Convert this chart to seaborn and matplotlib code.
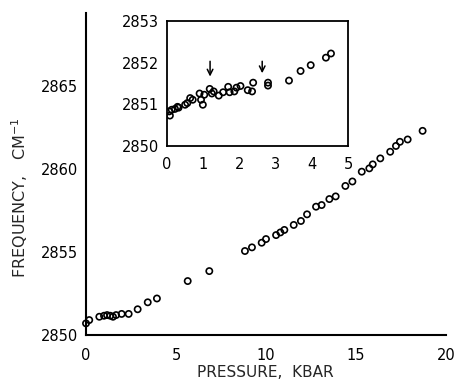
import matplotlib
matplotlib.use("Agg")
import matplotlib.pyplot as plt
import seaborn as sns
import pandas as pd

# Main panel data (pressure in kbar, frequency in cm^-1)
main_pressure = [0.0, 0.18, 0.74, 1.0, 1.17, 1.35, 1.5, 1.67, 1.98, 2.37, 2.87, 3.43, 3.94,
                 5.65, 6.85,
                 8.83, 9.22, 9.76, 10.0, 10.56, 10.8, 11.02, 11.54, 11.94, 12.28, 12.78,
                 13.09, 13.52, 13.87, 14.41, 14.8, 15.32, 15.74, 15.93, 16.35, 16.9,
                 17.22, 17.44, 17.87, 18.7]
main_freq = [2850.7, 2850.9, 2851.1, 2851.16, 2851.2, 2851.16, 2851.1, 2851.2, 2851.27, 2851.27,
             2851.55, 2851.97, 2852.2,
             2853.25, 2853.85,
             2855.06, 2855.28, 2855.56, 2855.78, 2856.02, 2856.18, 2856.33, 2856.63, 2856.87,
             2857.27, 2857.73, 2857.83, 2858.19, 2858.35, 2858.98, 2859.25, 2859.84,
             2860.04, 2860.28, 2860.64, 2861.04, 2861.39, 2861.64, 2861.78, 2862.3]

# Inset data (low-pressure detail)
inset_pressure = [0.06, 0.08, 0.13, 0.22, 0.29, 0.32, 0.5, 0.56, 0.64, 0.71, 0.9, 0.94, 0.99,
                  1.03, 1.18, 1.24, 1.29, 1.43, 1.55, 1.69, 1.73, 1.86, 1.92, 2.03, 2.23,
                  2.35, 2.38, 2.79, 2.79, 3.37, 3.69, 3.97, 4.39, 4.53]
inset_freq = [2850.83, 2850.73, 2850.87, 2850.89, 2850.94, 2850.92, 2850.99, 2851.03, 2851.15,
              2851.11, 2851.26, 2851.11, 2850.99, 2851.23, 2851.37, 2851.26, 2851.31, 2851.21,
              2851.29, 2851.42, 2851.29, 2851.31, 2851.4, 2851.44, 2851.34, 2851.31, 2851.52,
              2851.52, 2851.45, 2851.57, 2851.8, 2851.94, 2852.12, 2852.22]

# Arrow markers in inset (pressure position, tip frequency, tail frequency)
arrow_x = [1.19, 2.63]
arrow_tip = [2851.6, 2851.68]
arrow_tail = [2852.1, 2852.1]

main_xticks = [0, 5, 10, 15, 20]
main_yticks = [2850, 2855, 2860, 2865]
inset_xticks = [0, 1, 2, 3, 4, 5]
inset_yticks = [2850, 2851, 2852, 2853]

sns.set_style("white")
plt.rcParams['font.family'] = ['DejaVu Sans']

fig = plt.figure(figsize=(4.59, 3.79), dpi=100)
ax = fig.add_axes([86/459, 1 - 335/379, 360/459, 322/379])

df_main = pd.DataFrame({"p": main_pressure, "f": main_freq})
sns.scatterplot(data=df_main, x="p", y="f", ax=ax, marker="o", s=20,
                facecolors="none", edgecolor="black", linewidth=1.2, clip_on=False)
ax.set_xlim(0, 20)
ax.set_ylim(2850, 2869.4)
ax.set_xticks(main_xticks)
ax.set_yticks(main_yticks)
ax.set_xticklabels([str(t) for t in main_xticks], fontsize=10.5)
ax.set_yticklabels([str(t) for t in main_yticks], fontsize=10.5)
for s in ["top", "right"]:
    ax.spines[s].set_visible(False)
for s in ["left", "bottom"]:
    ax.spines[s].set_linewidth(1.5)
    ax.spines[s].set_color("black")
ax.tick_params(direction="in", length=4, width=1.3, colors="black")
ax.tick_params(axis="x", pad=9)
ax.tick_params(axis="y", pad=6)
ax.set_xlabel("PRESSURE,  KBAR", fontsize=11)
ax.xaxis.set_label_coords((265 - 86) / 360, -(365 - 335) / 322)
ax.set_ylabel("FREQUENCY,   CM$^{-1}$", fontsize=11.5)
ax.yaxis.set_label_coords((30 - 86) / 360, (335 - 198) / 322)

ins = fig.add_axes([167/459, 1 - 146/379, 181/459, 125/379])
df_in = pd.DataFrame({"p": inset_pressure, "f": inset_freq})
sns.scatterplot(data=df_in, x="p", y="f", ax=ins, marker="o", s=20,
                facecolors="none", edgecolor="black", linewidth=1.2)
ins.set_xlim(0, 5)
ins.set_ylim(2850, 2853)
ins.set_xticks(inset_xticks)
ins.set_yticks(inset_yticks)
ins.set_xticklabels([str(t) for t in inset_xticks], fontsize=10.5)
ins.set_yticklabels([str(t) for t in inset_yticks], fontsize=10.5)
for s in ins.spines.values():
    s.set_linewidth(1.3)
    s.set_color("black")
ins.tick_params(direction="in", length=4, width=1.2, colors="black")
ins.tick_params(axis="x", pad=8)
ins.tick_params(axis="y", pad=6)
ins.set_xlabel("")
ins.set_ylabel("")
for xa, tip, tail in zip(arrow_x, arrow_tip, arrow_tail):
    ins.annotate("", xy=(xa, tip), xytext=(xa, tail),
                 arrowprops=dict(arrowstyle="->", color="black", lw=1.1))

fig.savefig("out.png", dpi=100)
